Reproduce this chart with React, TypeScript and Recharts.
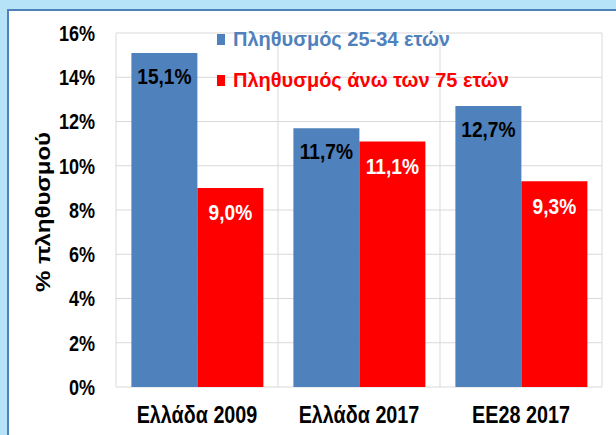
import { BarChart, Bar, XAxis, YAxis, CartesianGrid, Legend, LabelList } from "recharts";

const categories = ["Ελλάδα 2009", "Ελλάδα 2017", "ΕΕ28 2017"];
const young = [15.1, 11.7, 12.7];
const old = [9.0, 11.1, 9.3];
const yTicks = [0, 2, 4, 6, 8, 10, 12, 14, 16];
const youngName = "Πληθυσμός 25-34 ετών";
const oldName = "Πληθυσμός άνω των 75 ετών";
const yLabel = "% πληθυσμού";

const data = categories.map((name, i) => ({ name, young: young[i], old: old[i] }));

const ARIAL = "'Liberation Sans', Arial, sans-serif";
const BLUE = "#4f81bd";
const RED = "#ff0000";

const fmt = (v: any) => `${Number(v).toFixed(1).replace(".", ",")}%`;

// bold text squeezed horizontally on screen (the original looks like Arial Narrow)
function Narrow({ x, y, text, anchor = "middle", fill = "#000", size = 22, squeeze = 0.84, dy = "0", rotate = 0 }: any) {
  return (
    <text
      transform={`translate(${x},${y}) scale(${squeeze},1) rotate(${rotate})`}
      textAnchor={anchor}
      dy={dy}
      fontFamily={ARIAL}
      fontWeight="bold"
      fontSize={size}
      fill={fill}
    >
      {text}
    </text>
  );
}

const XTick = ({ x, y, payload }: any) => (
  <Narrow x={x} y={y} text={payload.value} size={23} squeeze={0.86} dy="0.71em" />
);
const YTick = ({ x, y, payload }: any) => (
  <Narrow x={x} y={y} text={`${payload.value}%`} anchor="end" size={22} squeeze={0.82} dy="0.36em" />
);

const barLabel = (fill: string, offset: number) => (props: any) => {
  const { x, y, width, value } = props;
  return (
    <Narrow
      x={Number(x) + Number(width) / 2}
      y={Number(y) + offset}
      text={fmt(value)}
      fill={fill}
      size={22}
      squeeze={0.87}
      dy="0.71em"
    />
  );
};

function LegendBox({ payload }: any) {
  return (
    <div style={{ fontFamily: ARIAL, fontSize: 20, fontWeight: "bold" }}>
      {(payload || []).map((p: any) => (
        <div key={p.value} style={{ display: "flex", alignItems: "center", height: 41, color: p.color }}>
          <span style={{ width: 8, height: 11, background: p.color, marginRight: 8 }} />
          <span>{p.value}</span>
        </div>
      ))}
    </div>
  );
}

function YTitle({ viewBox }: any) {
  return (
    <Narrow
      x={43}
      y={viewBox.y + viewBox.height / 2 + 2}
      text={yLabel}
      rotate={-90}
      size={24}
      squeeze={0.84}
      dy="0.36em"
    />
  );
}

export default function App() {
  return (
    <div style={{ position: "fixed", left: 0, top: 0, width: 616, height: 435, background: "#b7e3f8", overflow: "hidden" }}>
      <div
        style={{
          position: "absolute",
          left: 7,
          top: 9,
          width: 640,
          height: 460,
          background: "#fff",
          border: `2px solid ${BLUE}`,
          boxSizing: "border-box",
        }}
      />
      <div style={{ position: "absolute", left: 0, top: 0 }}>
        <BarChart
          width={616}
          height={435}
          data={data}
          margin={{ top: 33, right: 14, left: 0, bottom: 0 }}
          barGap={0}
          barCategoryGap="9.5%"
        >
          <CartesianGrid
            stroke="#d9d9d9"
            strokeWidth={1}
            verticalCoordinatesGenerator={({ offset }: any) =>
              [0, 1, 2, 3].map((i) => offset.left + (i * offset.width) / categories.length)
            }
          />
          <XAxis dataKey="name" axisLine={false} tickLine={false} tickSize={0} tickMargin={20} height={48} tick={<XTick />} />
          <YAxis
            domain={[0, 16]}
            ticks={yTicks}
            width={116}
            axisLine={false}
            tickLine={false}
            tickSize={0}
            tickMargin={21}
            tick={<YTick />}
            label={{ content: <YTitle /> }}
          />
          <Legend
            layout="vertical"
            verticalAlign="middle"
            align="center"
            wrapperStyle={{ left: 217, top: 19, width: 380 }}
            content={<LegendBox />}
          />
          <Bar dataKey="young" name={youngName} fill={BLUE} isAnimationActive={false}>
            <LabelList dataKey="young" content={barLabel("#000", 15)} />
          </Bar>
          <Bar dataKey="old" name={oldName} fill={RED} isAnimationActive={false}>
            <LabelList dataKey="old" content={barLabel("#fff", 17)} />
          </Bar>
        </BarChart>
      </div>
    </div>
  );
}
